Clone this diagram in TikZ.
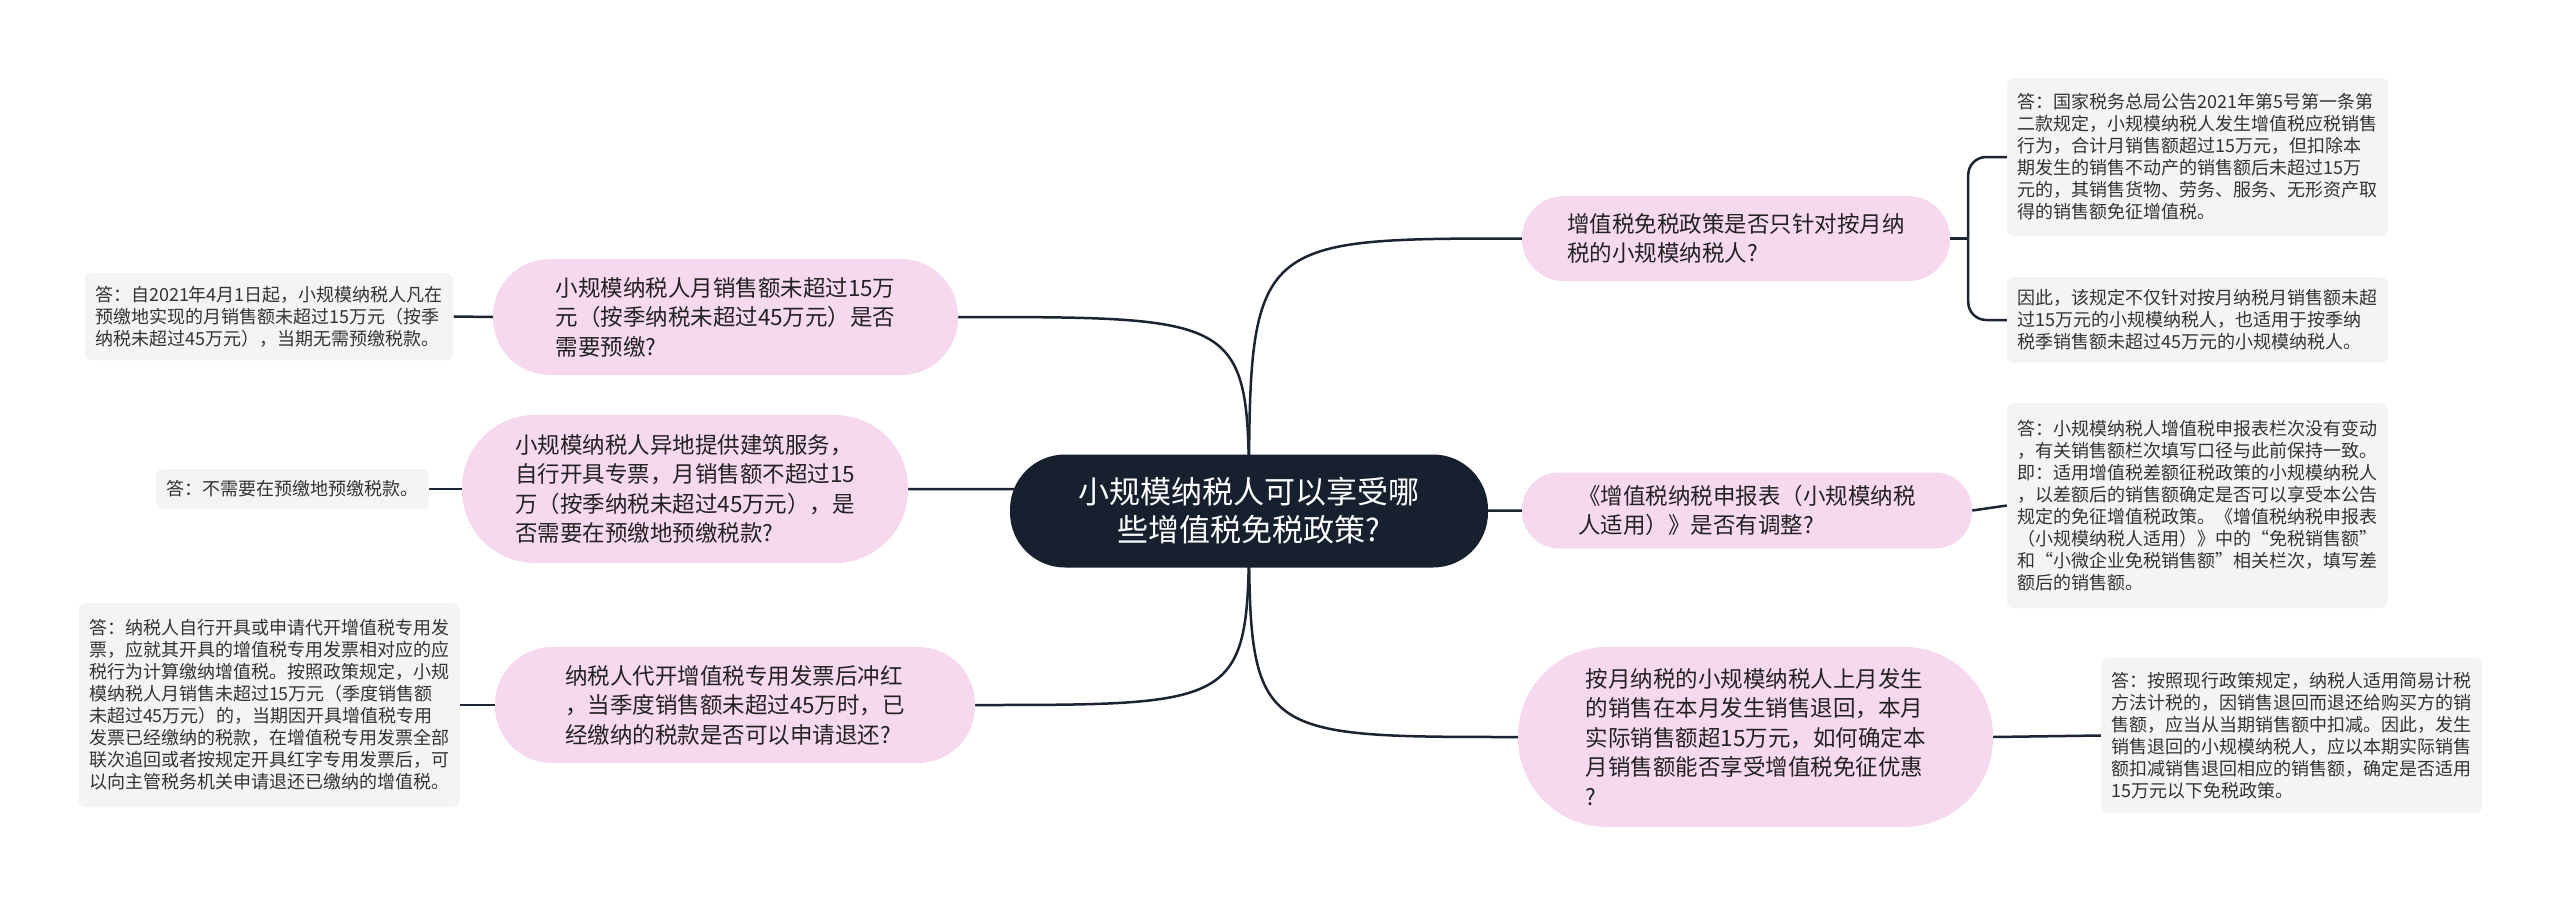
\documentclass[tikz,border=0pt]{standalone}
\usepackage{fontspec}
\newfontfamily\cjk{Noto Sans CJK SC}
\usetikzlibrary{calc}
\pgfdeclarelayer{bg}
\pgfsetlayers{bg,main}
\definecolor{navy}{HTML}{16202E}
\definecolor{linec}{HTML}{1A2433}
\definecolor{pinkc}{HTML}{F6D9EF}
\definecolor{ansfill}{HTML}{F4F4F4}
\definecolor{txt}{HTML}{222222}
\definecolor{anstxt}{HTML}{333333}
\begin{document}
\begin{tikzpicture}[x=1pt,y=-1pt,
  rootbox/.style={fill=navy, text=white, font=\cjk\fontsize{31}{38}\selectfont, align=center,
    rounded corners=55pt, minimum width=478pt, minimum height=113pt, inner sep=0pt},
  branch/.style={fill=pinkc, text=txt, font=\cjk\fontsize{22.5}{29.5}\selectfont, align=left, inner sep=0pt},
  answer/.style={fill=ansfill, text=anstxt, font=\cjk\fontsize{18}{22}\selectfont, align=left,
    rounded corners=7pt, inner xsep=10.5pt, inner ysep=4pt},
  conn/.style={draw=linec, line width=2.5pt}
]
\useasboundingbox (0,0) rectangle (2560,905);

% root
\node[rootbox] (C) at (1249,511) {小规模纳税人可以享受哪\\些增值税免税政策?};

% left branches
\node[branch, minimum width=465pt, minimum height=116pt, rounded corners=57pt] (L1) at (725.5,317)
  {小规模纳税人月销售额未超过15万\\元（按季纳税未超过45万元）是否\\需要预缴?};
\node[branch, minimum width=446pt, minimum height=148pt, rounded corners=73pt] (L2) at (685,489)
  {小规模纳税人异地提供建筑服务，\\自行开具专票，月销售额不超过15\\万（按季纳税未超过45万元），是\\否需要在预缴地预缴税款?};
\node[branch, minimum width=480pt, minimum height=116pt, rounded corners=57pt] (L3) at (735,705)
  {纳税人代开增值税专用发票后冲红\\，当季度销售额未超过45万时，已\\经缴纳的税款是否可以申请退还?};

% right branches
\node[branch, minimum width=428pt, minimum height=85pt, rounded corners=42pt] (R1) at (1736,238.5)
  {增值税免税政策是否只针对按月纳\\税的小规模纳税人?};
\node[branch, minimum width=450pt, minimum height=76pt, rounded corners=37pt] (R2) at (1747,510.5)
  {《增值税纳税申报表（小规模纳税\\人适用）》是否有调整?};
\node[branch, minimum width=475pt, minimum height=180pt, rounded corners=89pt] (R3) at (1755.5,737)
  {按月纳税的小规模纳税人上月发生\\的销售在本月发生销售退回，本月\\实际销售额超15万元，如何确定本\\月销售额能否享受增值税免征优惠\\?};

% answers left
\node[answer, minimum height=87pt] (AL1) at (269,316.5)
  {答：自2021年4月1日起，小规模纳税人凡在\\预缴地实现的月销售额未超过15万元（按季\\纳税未超过45万元），当期无需预缴税款。};
\node[answer, minimum height=40pt] (AL2) at (292.5,489)
  {答：不需要在预缴地预缴税款。};
\node[answer, minimum height=204pt] (AL3) at (269,705)
  {答：纳税人自行开具或申请代开增值税专用发\\票，应就其开具的增值税专用发票相对应的应\\税行为计算缴纳增值税。按照政策规定，小规\\模纳税人月销售未超过15万元（季度销售额\\未超过45万元）的，当期因开具增值税专用\\发票已经缴纳的税款，在增值税专用发票全部\\联次追回或者按规定开具红字专用发票后，可\\以向主管税务机关申请退还已缴纳的增值税。};

% answers right
\node[answer, minimum height=158pt] (AR1a) at (2197.5,157)
  {答：国家税务总局公告2021年第5号第一条第\\二款规定，小规模纳税人发生增值税应税销售\\行为，合计月销售额超过15万元，但扣除本\\期发生的销售不动产的销售额后未超过15万\\元的，其销售货物、劳务、服务、无形资产取\\得的销售额免征增值税。};
\node[answer, minimum height=86pt] (AR1b) at (2197.5,320)
  {因此，该规定不仅针对按月纳税月销售额未超\\过15万元的小规模纳税人，也适用于按季纳\\税季销售额未超过45万元的小规模纳税人。};
\node[answer, minimum height=205pt] (AR2) at (2197.5,505.5)
  {答：小规模纳税人增值税申报表栏次没有变动\\，有关销售额栏次填写口径与此前保持一致。\\即：适用增值税差额征税政策的小规模纳税人\\，以差额后的销售额确定是否可以享受本公告\\规定的免征增值税政策。《增值税纳税申报表\\（小规模纳税人适用）》中的“免税销售额”\\和“小微企业免税销售额”相关栏次，填写差\\额后的销售额。};
\node[answer, minimum height=155pt] (AR3) at (2291.5,735.5)
  {答：按照现行政策规定，纳税人适用简易计税\\方法计税的，因销售退回而退还给购买方的销\\售额，应当从当期销售额中扣减。因此，发生\\销售退回的小规模纳税人，应以本期实际销售\\额扣减销售退回相应的销售额，确定是否适用\\15万元以下免税政策。};

\coordinate (K) at ($(R1.east)+(18,0)$);

\begin{pgfonlayer}{bg}
\fill[white] (0,0) rectangle (2560,905);
% root to branches
\draw[conn] (C.center) .. controls (C.center |- L1.east) .. (L1.east);
\draw[conn] (C.center) .. controls (C.center |- L2.east) .. (L2.east);
\draw[conn] (C.center) .. controls (C.center |- L3.east) .. (L3.east);
\draw[conn] (C.center) .. controls (C.center |- R1.west) .. (R1.west);
\draw[conn] (C.center) .. controls (C.center |- R2.west) .. (R2.west);
\draw[conn] (C.center) .. controls (C.center |- R3.west) .. (R3.west);
% branches to answers
\draw[conn] (L1.west) -- (AL1.east);
\draw[conn] (L2.west) -- (AL2.east);
\draw[conn] (L3.west) -- (AL3.east);
\draw[conn] (R2.east) -- (AR2.west);
\draw[conn] (R3.east) -- (AR3.west);
\draw[conn] (R1.east) -- (K);
\draw[conn, rounded corners=18pt] (K) |- (AR1a.west);
\draw[conn, rounded corners=18pt] (K) |- (AR1b.west);
\end{pgfonlayer}
\end{tikzpicture}
\end{document}
